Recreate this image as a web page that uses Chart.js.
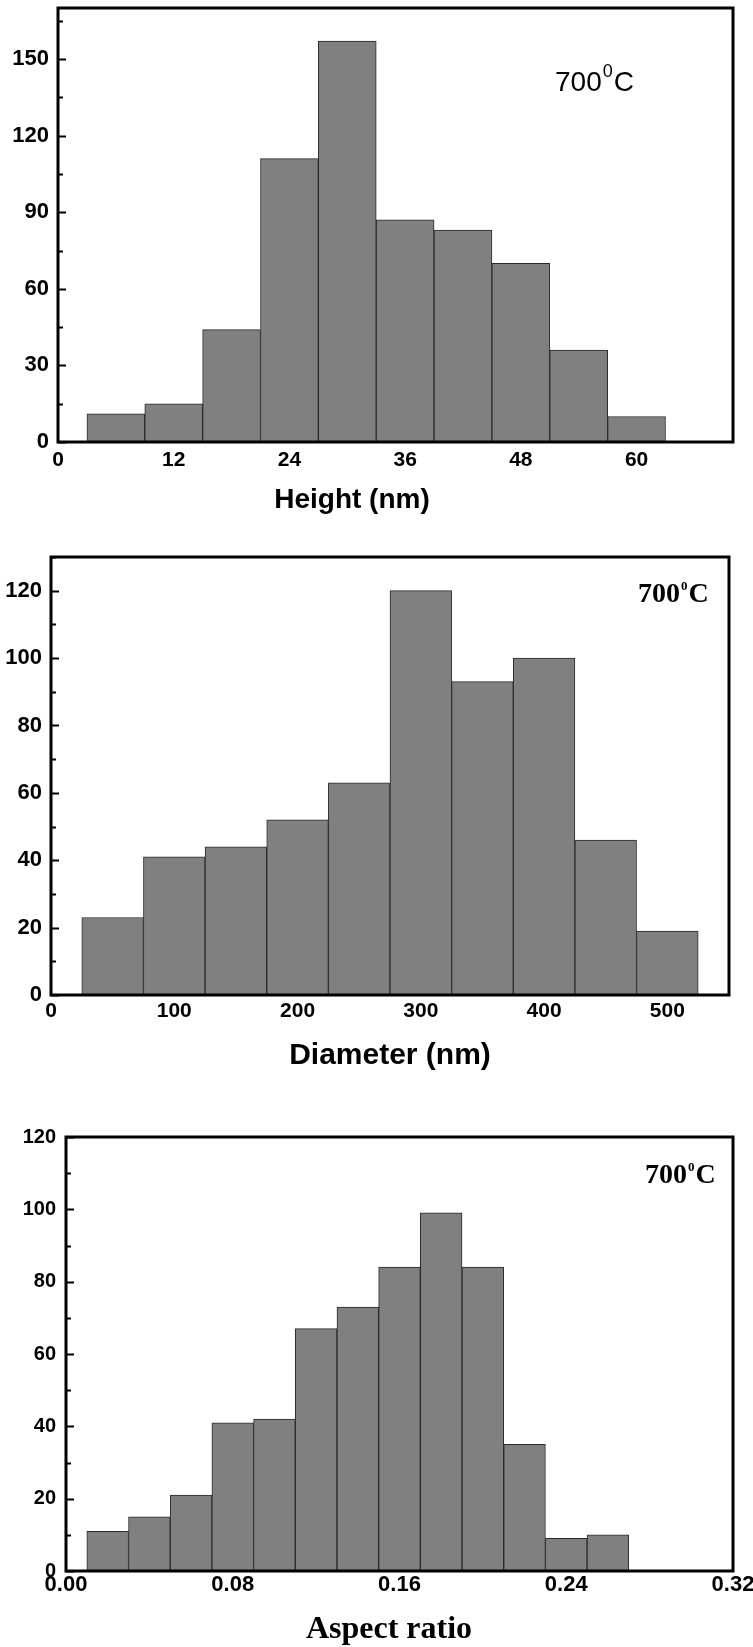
<!DOCTYPE html>
<html>
<head>
<meta charset="utf-8">
<script src="https://cdn.jsdelivr.net/npm/chart.js@4.4.1/dist/chart.umd.min.js"></script>
<style>
  html, body { margin: 0; padding: 0; background: #fff; }
  body { width: 753px; height: 1647px; position: relative; overflow: hidden; }
  canvas { position: absolute; left: 0; }
</style>
</head>
<body>
<canvas id="c-height" width="753" height="525" style="top:0px"></canvas>
<canvas id="c-diameter" width="753" height="545" style="top:525px"></canvas>
<canvas id="c-ratio" width="753" height="577" style="top:1070px"></canvas>
<script>
/* 700°C 試料のヒストグラム 3枚: Height / Diameter / Aspect ratio */

// bin centres and counts
const heightBins = [6, 12, 18, 24, 30, 36, 42, 48, 54, 60];
const heightCounts = [11, 15, 44, 111, 157, 87, 83, 70, 36, 10];

const diameterBins = [50, 100, 150, 200, 250, 300, 350, 400, 450, 500];
const diameterCounts = [23, 41, 44, 52, 63, 120, 93, 100, 46, 19];

const ratioBins = [0.02, 0.04, 0.06, 0.08, 0.10, 0.12, 0.14, 0.16, 0.18, 0.20, 0.22, 0.24, 0.26];
const ratioCounts = [11, 15, 21, 41, 42, 67, 73, 84, 99, 84, 35, 9, 10];

// axis ranges / tick steps
const heightX = { min: 0, max: 70, step: 12 };
const heightY = { min: 0, max: 170, step: 30 };
const diameterX = { min: 0, max: 550, step: 100 };
const diameterY = { min: 0, max: 130, step: 20 };
const ratioX = { min: 0, max: 0.32, step: 0.08 };
const ratioY = { min: 0, max: 120, step: 20 };

const SANS = "'Liberation Sans', Arial, sans-serif";
const SERIF = "'Liberation Serif', 'Times New Roman', serif";

// 枠線 + 内向き目盛り + 軸タイトル + 温度ラベル
const framePlugin = {
  id: "frame",
  afterDatasetsDraw(chart, args, o) {
    const { ctx, chartArea: a } = chart;
    const y = chart.scales.y;
    ctx.save();
    ctx.strokeStyle = "#000";
    ctx.lineWidth = 2;
    const half = o.yStep / 2;
    for (let i = 0; i * half <= y.max + 1e-9; i++) {
      const py = Math.round(y.getPixelForValue(i * half)) + 0.5;
      const len = i % 2 === 0 ? 8 : 5;
      ctx.beginPath();
      ctx.moveTo(a.left, py);
      ctx.lineTo(a.left + len, py);
      ctx.stroke();
    }
    ctx.lineWidth = 3;
    ctx.strokeRect(a.left, a.top, a.right - a.left, a.bottom - a.top);

    ctx.fillStyle = "#000";
    ctx.textBaseline = "alphabetic";
    // axis title
    ctx.font = o.title.font;
    ctx.textAlign = "center";
    ctx.fillText(o.title.text, o.title.x, o.title.y);

    // 700^0C
    const t = o.temp;
    ctx.textAlign = "left";
    let x = t.x;
    ctx.font = t.font;
    ctx.fillText("700", x, t.y);
    x += ctx.measureText("700").width + t.gap;
    ctx.font = t.supFont;
    ctx.fillText("0", x, t.y - t.rise);
    x += ctx.measureText("0").width + t.gap;
    ctx.font = t.font;
    ctx.fillText("C", x, t.y);
    ctx.restore();
  },
};

function makeHistogram(id, bins, counts, xr, yr, look) {
  const canvas = document.getElementById(id);
  const top = look.canvasTop;
  const a = look.area;
  const data = bins.map((b, i) => ({ x: b, y: counts[i] }));

  return new Chart(canvas, {
    type: "bar",
    data: {
      datasets: [
        {
          data,
          backgroundColor: "#808080",
          borderColor: "#2a2a2a",
          borderWidth: 1,
          borderSkipped: "start",
          categoryPercentage: 1,
          barPercentage: 1,
        },
      ],
    },
    options: {
      responsive: false,
      animation: false,
      layout: {
        padding: { left: 0, top: a.top - top, right: 753 - a.right, bottom: 0 },
      },
      plugins: {
        legend: { display: false },
        tooltip: { enabled: false },
        frame: {
          yStep: yr.step,
          title: { ...look.title, y: look.title.y - top },
          temp: { ...look.temp, y: look.temp.y - top },
        },
      },
      scales: {
        x: {
          type: "linear",
          min: xr.min,
          max: xr.max,
          offset: false,
          border: { display: false },
          grid: { display: false, drawTicks: false },
          ticks: {
            stepSize: xr.step,
            includeBounds: false,
            autoSkip: false,
            maxRotation: 0,
            color: "#000",
            padding: look.xPad,
            font: look.xFont,
            callback: (v) => look.xFmt(v),
          },
          afterFit: (s) => {
            s.height = canvas.height - (a.bottom - top);
            s.paddingLeft = 0;
            s.paddingRight = 0;
          },
        },
        y: {
          min: yr.min,
          max: yr.max,
          border: { display: false },
          grid: { display: false, drawTicks: false },
          ticks: {
            stepSize: yr.step,
            includeBounds: false,
            color: "#000",
            padding: look.yPad,
            font: look.yFont,
          },
          afterFit: (s) => {
            s.width = a.left;
            s.paddingTop = 0;
            s.paddingBottom = 0;
          },
        },
      },
    },
    plugins: [framePlugin],
  });
}

makeHistogram("c-height", heightBins, heightCounts, heightX, heightY, {
  canvasTop: 0,
  area: { left: 58, top: 8, right: 733, bottom: 442 },
  xPad: 6,
  yPad: 9,
  xFont: { family: SANS, size: 21, weight: "bold" },
  yFont: { family: SANS, size: 22, weight: "bold" },
  xFmt: (v) => String(v),
  title: { text: "Height (nm)", font: `bold 28px ${SANS}`, x: 352, y: 508 },
  temp: { x: 555, y: 91, font: `28px ${SANS}`, supFont: `18px ${SANS}`, rise: 14, gap: 1 },
});

makeHistogram("c-diameter", diameterBins, diameterCounts, diameterX, diameterY, {
  canvasTop: 525,
  area: { left: 51, top: 557, right: 729, bottom: 995 },
  xPad: 4,
  yPad: 9,
  xFont: { family: SANS, size: 21, weight: "bold" },
  yFont: { family: SANS, size: 22, weight: "bold" },
  xFmt: (v) => String(v),
  title: { text: "Diameter (nm)", font: `bold 30px ${SANS}`, x: 390, y: 1064 },
  temp: { x: 638, y: 602, font: `bold 28px ${SERIF}`, supFont: `bold 13px ${SERIF}`, rise: 12, gap: 1 },
});

makeHistogram("c-ratio", ratioBins, ratioCounts, ratioX, ratioY, {
  canvasTop: 1070,
  area: { left: 66, top: 1137, right: 733, bottom: 1571 },
  xPad: 1,
  yPad: 10,
  xFont: { family: SANS, size: 22, weight: "bold" },
  yFont: { family: SANS, size: 20, weight: "bold" },
  xFmt: (v) => v.toFixed(2),
  title: { text: "Aspect ratio", font: `bold 32px ${SERIF}`, x: 389, y: 1638 },
  temp: { x: 645, y: 1183, font: `bold 28px ${SERIF}`, supFont: `bold 13px ${SERIF}`, rise: 12, gap: 1 },
});
</script>
</body>
</html>
